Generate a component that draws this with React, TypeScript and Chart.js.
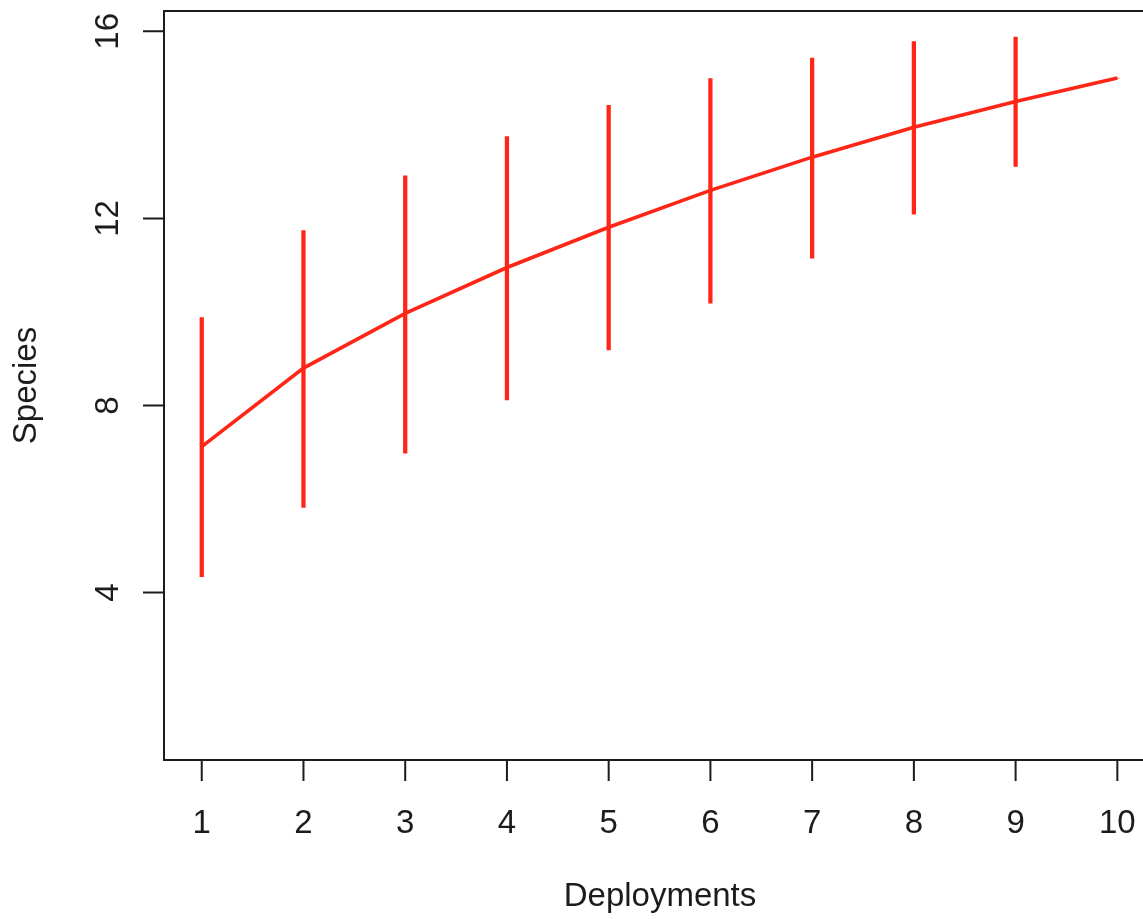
import React, { useEffect, useRef } from "react";
import { Chart, registerables } from "chart.js";

Chart.register(...registerables);

// Data
const deployments = [1, 2, 3, 4, 5, 6, 7, 8, 9, 10];
const speciesMean = [7.12, 8.8, 9.97, 10.95, 11.81, 12.6, 13.31, 13.95, 14.5, 15.0];
const speciesLow = [4.34, 5.82, 6.98, 8.12, 9.19, 10.19, 11.15, 12.09, 13.11, 15.0];
const speciesHigh = [9.88, 11.74, 12.91, 13.75, 14.42, 14.99, 15.43, 15.78, 15.88, 15.0];
const xTicks = [1, 2, 3, 4, 5, 6, 7, 8, 9, 10];
const yTicks = [4, 8, 12, 16];
const xTitle = "Deployments";
const yTitle = "Species";

const RED = "#ff2617";
const INK = "#1c1c1c";
const FONT = '33px "Liberation Sans", Arial, Helvetica, sans-serif';

const rAxesPlugin = {
  id: "rAxes",
  afterDraw(chart: any) {
    const { ctx, chartArea, scales } = chart;
    const { left, right, top, bottom } = chartArea;
    const xs = scales.x;
    const ys = scales.y;
    ctx.save();
    ctx.strokeStyle = INK;
    ctx.lineWidth = 2;
    ctx.lineCap = "butt";
    // box
    ctx.beginPath();
    ctx.rect(left, top, right - left, bottom - top);
    ctx.stroke();
    // x axis ticks
    const tickLen = 21;
    ctx.beginPath();
    xTicks.forEach((t) => {
      const px = xs.getPixelForValue(t);
      ctx.moveTo(px, bottom);
      ctx.lineTo(px, bottom + tickLen);
    });
    // y axis ticks
    yTicks.forEach((t) => {
      const py = ys.getPixelForValue(t);
      ctx.moveTo(left, py);
      ctx.lineTo(left - tickLen, py);
    });
    ctx.stroke();

    ctx.fillStyle = INK;
    ctx.font = FONT;
    ctx.textBaseline = "alphabetic";
    ctx.textAlign = "center";
    xTicks.forEach((t) => {
      ctx.fillText(String(t), xs.getPixelForValue(t), bottom + 73);
    });
    yTicks.forEach((t) => {
      ctx.save();
      ctx.translate(left - 46, ys.getPixelForValue(t));
      ctx.rotate(-Math.PI / 2);
      ctx.fillText(String(t), 0, 0);
      ctx.restore();
    });
    // titles
    ctx.fillText(xTitle, (left + right) / 2, bottom + 146);
    ctx.save();
    ctx.translate(left - 128, (top + bottom) / 2);
    ctx.rotate(-Math.PI / 2);
    ctx.fillText(yTitle, 0, 0);
    ctx.restore();
    ctx.restore();
  },
};

export default function App() {
  const ref = useRef<HTMLCanvasElement | null>(null);
  useEffect(() => {
    if (!ref.current) return;
    const chart = new Chart(ref.current, {
      type: "line",
      data: {
        datasets: [
          {
            type: "line",
            data: deployments.map((d, i) => ({ x: d, y: speciesMean[i] })),
            borderColor: RED,
            borderWidth: 3.6,
            pointRadius: 0,
            tension: 0,
            fill: false,
            order: 1,
          } as any,
          {
            type: "bar",
            data: deployments.map((d, i) => ({ x: d, y: [speciesLow[i], speciesHigh[i]] })),
            backgroundColor: RED,
            borderWidth: 0,
            barThickness: 3.6,
            grouped: false,
            order: 2,
          } as any,
        ],
      },
      options: {
        animation: false,
        responsive: false,
        devicePixelRatio: 1,
        layout: { padding: { left: 164, right: 0, top: 11, bottom: 159 } },
        plugins: { legend: { display: false }, tooltip: { enabled: false } },
        scales: {
          x: { type: "linear", min: 0.629, max: 10.38, display: false, offset: false },
          y: { type: "linear", min: 0.42, max: 16.435, display: false },
        },
      },
      plugins: [rAxesPlugin],
    });
    return () => chart.destroy();
  }, []);
  return (
    <div
      style={{
        position: "absolute",
        left: 0,
        top: 0,
        width: 1143,
        height: 919,
        overflow: "hidden",
        background: "#fff",
      }}
    >
      <canvas ref={ref} width={1156} height={919} style={{ width: 1156, height: 919, display: "block" }} />
    </div>
  );
}
